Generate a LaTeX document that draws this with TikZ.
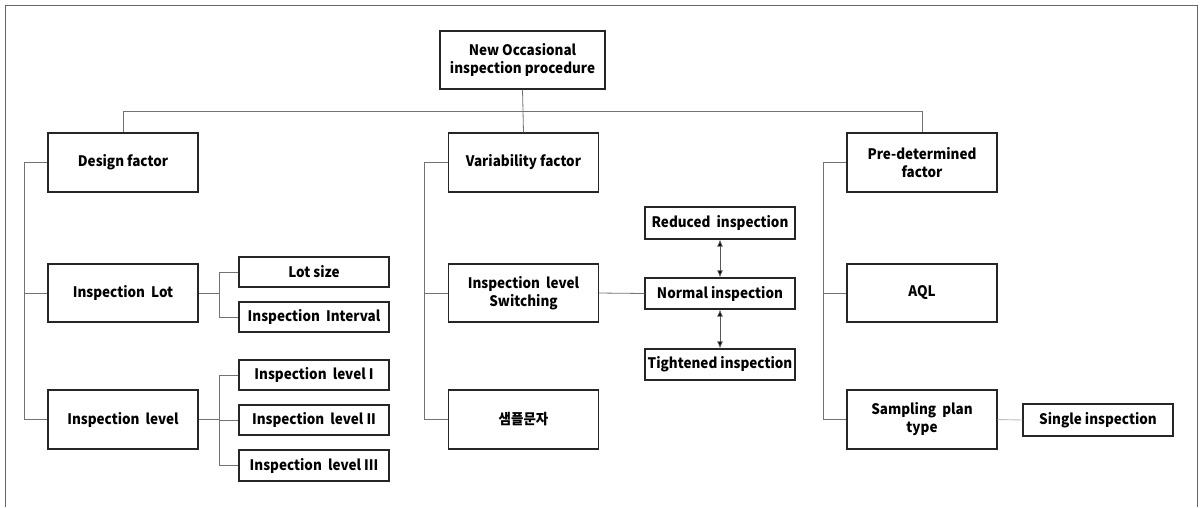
\documentclass[tikz,border=0pt]{standalone}
\usepackage{fontspec}
\setmainfont{Noto Sans CJK KR}[BoldFeatures={FakeStretch=0.93}]
\usetikzlibrary{arrows.meta}
\tikzset{
  box/.style={draw=black!85, line width=1.2pt, fill=white, inner sep=0pt, align=center,
    font=\fontsize{14.5}{18}\selectfont\bfseries, text=black},
  bigbox/.style={box, minimum width=150pt, minimum height=59pt},
  smallbox/.style={box, minimum width=150pt, minimum height=31pt},
  conn/.style={draw=black!55, line width=0.8pt},
  lightconn/.style={draw=black!25, line width=0.9pt},
  dbl/.style={draw=black!65, line width=0.8pt, {Latex[length=7pt,width=6pt,fill=black]}-{Latex[length=7pt,width=6pt,fill=black]}},
  frame/.style={draw=black!60, line width=0.8pt}
}
\begin{document}
\begin{tikzpicture}[x=1pt,y=-1pt]
\useasboundingbox (0,0) rectangle (1201,507);
\draw[frame] (5,507) -- (5,5) -- (1197,5) -- (1197,507);

\node[box, minimum width=165pt, minimum height=58pt] (root) at (522.5,60) {New Occasional\\inspection procedure};

\node[bigbox] (design) at (123,162.5) {Design factor};
\node[bigbox] (var) at (523.5,162.5) {Variability factor};
\node[bigbox] (pre) at (922,162.5) {Pre-determined\\factor};

\node[bigbox, minimum height=58pt] (lot) at (123,293) {Inspection\ \ Lot};
\node[bigbox] (lvl) at (123,419.5) {Inspection\ \ level};
\node[bigbox, minimum height=58pt] (sw) at (523.5,293) {Inspection\ \ level\\Switching};
\node[bigbox] (smp) at (523.5,419.5) {샘플문자};
\node[bigbox, minimum height=58pt] (aql) at (922,293) {AQL};
\node[bigbox] (spt) at (922,419.5) {Sampling\ \ plan\\type};

\node[smallbox, minimum height=30pt] (lotsize) at (314,272) {Lot size};
\node[smallbox, minimum height=30pt] (interval) at (314,317) {Inspection\ \ Interval};
\node[smallbox, minimum height=30pt] (l1) at (314,375) {Inspection\ \ level I};
\node[smallbox, minimum height=30pt] (l2) at (314,420) {Inspection\ \ level II};
\node[smallbox] (l3) at (314,465.5) {Inspection\ \ level III};

\node[smallbox, minimum height=32pt] (red) at (720,223) {Reduced\ \ inspection};
\node[smallbox] (nor) at (720,293.5) {Normal inspection};
\node[smallbox] (tig) at (720,364.5) {Tightened inspection};
\node[smallbox, minimum height=32pt] (single) at (1098,420) {Single inspection};

\coordinate (bus) at (0,111);
\coordinate (tL) at (24.5,0);
\coordinate (tV) at (424,0);
\coordinate (tP) at (823,0);
\coordinate (jA) at (219,0);

% top level
\draw[conn] (root.south) -- (var.north);
\draw[conn] (design.north) |- (bus -| pre.north) -- (pre.north);

% design tree
\draw[conn] (design.west) -- (design.west -| tL) -- (lvl.west -| tL) -- (lvl.west);
\draw[conn] (lot.west -| tL) -- (lot.west);
% variability tree
\draw[conn] (var.west) -- (var.west -| tV) -- (smp.west -| tV) -- (smp.west);
\draw[conn] (sw.west -| tV) -- (sw.west);
% pre-determined tree
\draw[conn] (pre.west) -- (pre.west -| tP) -- (spt.west -| tP) -- (spt.west);
\draw[conn] (aql.west -| tP) -- (aql.west);

% inspection lot
\draw[conn] (lot.east) -- (lot.east -| jA);
\draw[conn] (lotsize.west) -- (lotsize.west -| jA) -- (interval.west -| jA) -- (interval.west);
% inspection level
\draw[conn] (lvl.east) -- (lvl.east -| jA);
\draw[conn] (l1.west) -- (l1.west -| jA) -- (l3.west -| jA) -- (l3.west);
\draw[conn] (l2.west -| jA) -- (l2.west);

% switching
\draw[conn] (sw.east) -- (nor.west);
\draw[dbl] (red.south) -- (nor.north);
\draw[dbl] (nor.south) -- (tig.north);

% sampling plan
\draw[lightconn] (spt.east) -- (single.west);
\end{tikzpicture}
\end{document}
